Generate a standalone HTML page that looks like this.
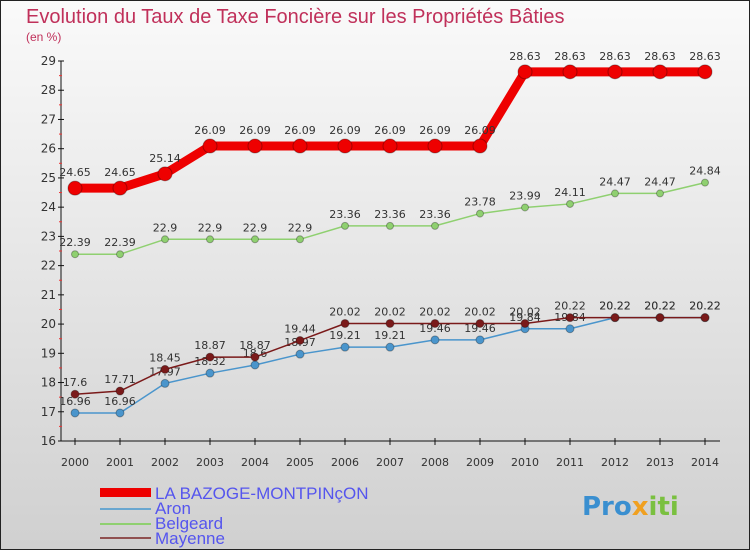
<!DOCTYPE html>
<html><head><meta charset="utf-8"><style>
body{margin:0;}
#c{width:750px;height:550px;position:relative;font-family:"DejaVu Sans","Liberation Sans",sans-serif;}
</style></head><body>
<div id="c">
<svg id="s" width="750" height="550" xmlns="http://www.w3.org/2000/svg">
<defs><linearGradient id="bg" x1="0" y1="0" x2="0" y2="1"><stop offset="0" stop-color="#fafafa"/><stop offset="1" stop-color="#d0d0d0"/></linearGradient></defs>
<rect x="0.5" y="0.5" width="749" height="549" fill="url(#bg)" stroke="#222"/>
<text x="26" y="23" font-size="20" fill="#c0305a" font-family="Liberation Sans, sans-serif">Evolution du Taux de Taxe Foncière sur les Propriétés Bâties</text>
<text x="26" y="41" font-size="12" fill="#c0305a" font-family="Liberation Sans, sans-serif">(en %)</text>
<g id="axes"></g><g id="marks"></g>
<g font-family="Liberation Sans, sans-serif">
<rect x="100" y="488" width="51" height="9" fill="#e00"/>
<text x="155" y="499" font-size="17" fill="#5555ee">LA BAZOGE-MONTPINçON</text>
<rect x="100" y="508" width="51" height="2" fill="#6aa7d0"/>
<text x="155" y="514" font-size="17" fill="#5555ee">Aron</text>
<rect x="100" y="523" width="51" height="2" fill="#8fd070"/>
<text x="155" y="529" font-size="17" fill="#5555ee">Belgeard</text>
<rect x="100" y="537" width="51" height="2" fill="#905050"/>
<text x="155" y="544" font-size="17" fill="#5555ee">Mayenne</text>
</g>
<text x="582" y="515" font-size="26" font-weight="bold" fill="#3a8fd0">Pro<tspan fill="#f0a020">x</tspan><tspan fill="#7ac040">iti</tspan></text>
</svg></div>
<script>
const years=[2000,2001,2002,2003,2004,2005,2006,2007,2008,2009,2010,2011,2012,2013,2014];
const bazoge=[24.65,24.65,25.14,26.09,26.09,26.09,26.09,26.09,26.09,26.09,28.63,28.63,28.63,28.63,28.63];
const belgeard=[22.39,22.39,22.9,22.9,22.9,22.9,23.36,23.36,23.36,23.78,23.99,24.11,24.47,24.47,24.84];
const aron=[16.96,16.96,17.97,18.32,18.6,18.97,19.21,19.21,19.46,19.46,19.84,19.84,20.22,20.22,20.22];
const mayenne=[17.6,17.71,18.45,18.87,18.87,19.44,20.02,20.02,20.02,20.02,20.02,20.22,20.22,20.22,20.22];
const yTicks=[16,17,18,19,20,21,22,23,24,25,26,27,28,29];
const NS="http://www.w3.org/2000/svg";
const X=i=>75+i*45, Y=v=>441-(v-16)*(380/13);
function mk(t,a,p){const e=document.createElementNS(NS,t);for(const k in a)e.setAttribute(k,a[k]);p.appendChild(e);return e;}
const ax=document.getElementById('axes'), mg=document.getElementById('marks');
let l=mk('line',{x1:61,y1:61,x2:61,y2:441,stroke:'#111'},ax);


l=mk('line',{x1:61,y1:441,x2:720,y2:441,stroke:'#111'},ax);


yTicks.forEach(v=>{
 mk('line',{x1:58,x2:64,y1:Y(v),y2:Y(v),stroke:'#111'},ax);
 if(v<29)mk('line',{x1:59,x2:62,y1:Y(v+0.5),y2:Y(v+0.5),stroke:'#e33'},ax);
 const t=mk('text',{x:56,y:Y(v)+4,'font-size':12,'text-anchor':'end',fill:'#333'},ax);t.textContent=v;
 
 
});
years.forEach((y,i)=>{
 mk('line',{x1:X(i),x2:X(i),y1:438,y2:445,stroke:'#111'},ax);
 const t=mk('text',{x:X(i),y:466,'font-size':11,'text-anchor':'middle',fill:'#333'},ax);t.textContent=y;
 
 
});
function series(d,col,w,r,name,labOff){
 const p=mk('polyline',{points:d.map((v,i)=>X(i)+','+Y(v)).join(' '),fill:'none',stroke:col,'stroke-width':w,'stroke-linejoin':'round'},mg);
 
 
 d.forEach((v,i)=>{
  const c=mk('circle',{cx:X(i),cy:Y(v),r:r,fill:col,stroke:'rgba(0,0,0,0.3)'},mg);
  
  
  const t=mk('text',{x:X(i),y:Y(v)-labOff,'font-size':11,'text-anchor':'middle',fill:'#333'},mg);t.textContent=v;
  
  
 });
}
series(belgeard,'#8fd070',1.5,3.5,'belgeard',8);
series(aron,'#4a95cc',1.5,4,'aron',8);
series(mayenne,'#7a1a1a',1.5,4,'mayenne',8);
series(bazoge,'#e00',9,7,'bazoge',12);
</script></body></html>
